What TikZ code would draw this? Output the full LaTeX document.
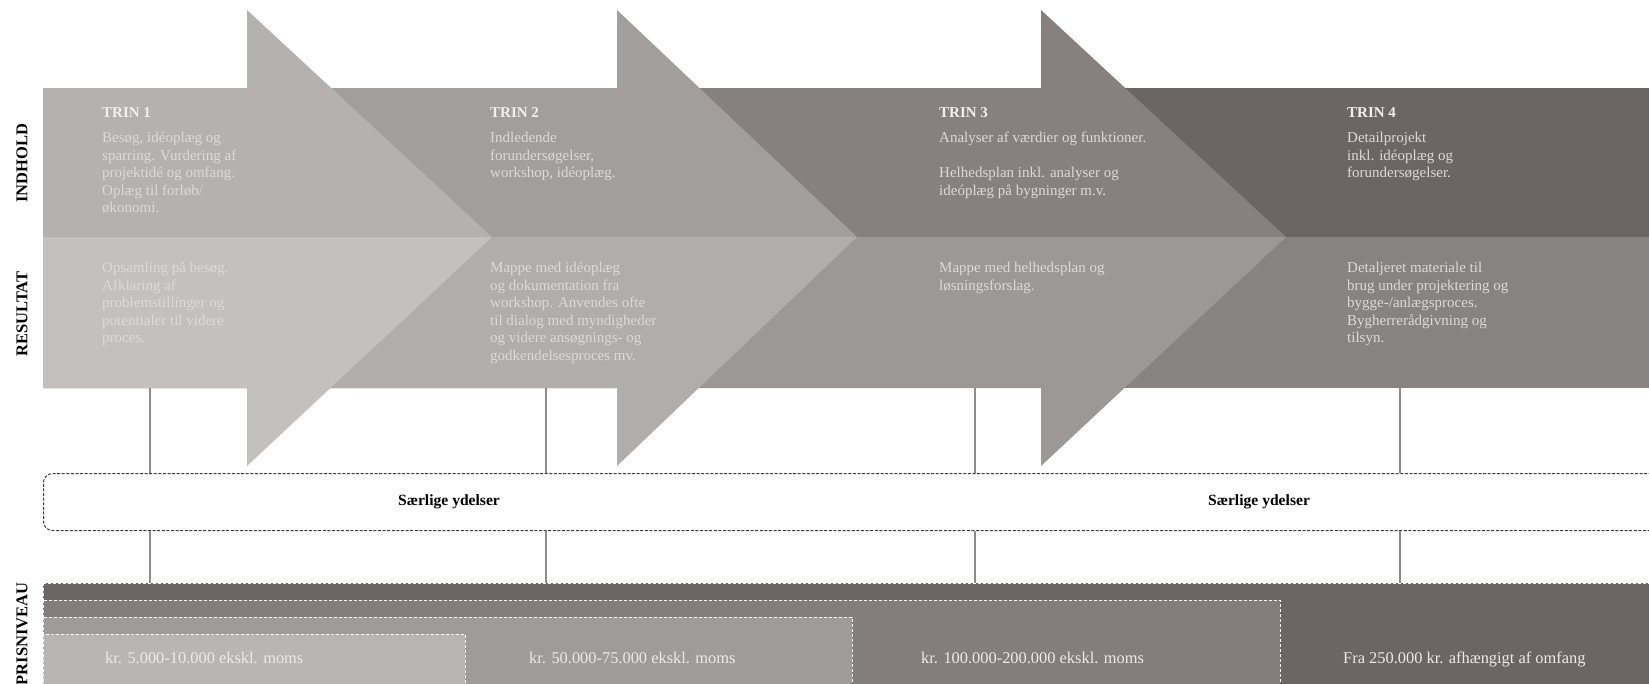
\documentclass[tikz,border=0pt]{standalone}
\usepackage{fontspec}
\setmainfont{Liberation Serif}
\definecolor{aoneu}{HTML}{B5B1AE}
\definecolor{aonel}{HTML}{C3C0BE}
\definecolor{atwou}{HTML}{A29E9D}
\definecolor{atwol}{HTML}{B0ADAB}
\definecolor{athreeu}{HTML}{86817F}
\definecolor{athreel}{HTML}{9C9896}
\definecolor{afouru}{HTML}{6B6663}
\definecolor{afourl}{HTML}{878381}
\definecolor{pone}{HTML}{B9B5B3}
\definecolor{ptwo}{HTML}{9F9B9A}
\definecolor{pthree}{HTML}{837E7B}
\definecolor{pfour}{HTML}{6B6663}
\definecolor{bodytxt}{HTML}{DCDAD7}
\definecolor{titletxt}{HTML}{F2F0EE}
\definecolor{pricetxt}{HTML}{ECEAE8}
\definecolor{linkgray}{HTML}{8C8C8C}
\definecolor{boxdash}{HTML}{3C3C3C}
\newcommand{\stagearrow}[4]{%
  \fill[#3] (43,88) -- (#1,88) -- (#1,10) -- (#2,237) -- (43,237) -- cycle;
  \fill[#4] (43,237) -- (#2,237) -- (#1,466) -- (#1,388) -- (43,388) -- cycle;}
\begin{document}
\begin{tikzpicture}[x=1pt,y=-1pt,
  body/.style={anchor=north west, inner sep=0pt, align=left, text=bodytxt,
    font=\fontsize{15}{17.5}\selectfont},
  trin/.style={anchor=base west, inner sep=0pt, text=titletxt,
    font=\bfseries\fontsize{15}{15}\selectfont},
  side/.style={rotate=90, inner sep=0pt, text=black,
    font=\bfseries\fontsize{16.5}{16.5}\selectfont},
  price/.style={anchor=base west, inner sep=0pt, text=pricetxt,
    font=\fontsize{16.4}{16.4}\selectfont},
  tier/.style={draw=white, dash pattern=on 3pt off 2pt, line width=0.9pt},
  link/.style={draw=linkgray, line width=1.4pt},
  sbox/.style={draw=boxdash, dash pattern=on 3pt off 1.6pt, line width=1pt,
    rounded corners=9pt, fill=white, inner sep=0pt},
  sylabel/.style={inner sep=0pt, text=black, font=\bfseries\fontsize{15.6}{15.6}\selectfont},
  ]
\useasboundingbox (0,0) rectangle (1649,683);
\clip (0,0) rectangle (1649,683);
\fill[white] (0,0) rectangle (1649,683);

% ---- stage band and arrows
\fill[afouru] (43,88) rectangle (1649,237);
\fill[afourl] (43,237) rectangle (1649,388);
\stagearrow{1041}{1286}{athreeu}{athreel}
\stagearrow{617}{857}{atwou}{atwol}
\stagearrow{247}{492}{aoneu}{aonel}

% ---- side labels
\node[side] (labA) at (22,163) {INDHOLD};
\node[side] (labB) at (22,314) {RESULTAT};
\node[side] (labC) at (22,634) {PRISNIVEAU};

% ---- stage texts
\node[trin] (t1) at (102,117) {TRIN 1};
\node[trin] (t2) at (490,117) {TRIN 2};
\node[trin] (t3) at (939,117) {TRIN 3};
\node[trin] (t4) at (1347,117) {TRIN 4};

\node[body] (i1) at (102,130.2) {\strut Besøg, idéoplæg og\\sparring. Vurdering af\\projektidé og omfang.\\Oplæg til forløb/\\økonomi.};
\node[body] (i2) at (490,130.2) {\strut Indledende\\forundersøgelser,\\workshop, idéoplæg.};
\node[body] (i3) at (939,130.2) {\strut Analyser af værdier og funktioner.\\[17.5pt]Helhedsplan inkl. analyser og\\ideóplæg på bygninger m.v.};
\node[body] (i4) at (1347,130.2) {\strut Detailprojekt\\inkl. idéoplæg og\\forundersøgelser.};

\node[body] (r1) at (102,260.2) {\strut Opsamling på besøg.\\Afklaring af\\problemstillinger og\\potentialer til videre\\proces.};
\node[body] (r2) at (490,260.2) {\strut Mappe med idéoplæg\\og dokumentation fra\\workshop. Anvendes ofte\\til dialog med myndigheder\\og videre ansøgnings- og\\godkendelsesproces mv.};
\node[body] (r3) at (939,260.2) {\strut Mappe med helhedsplan og\\løsningsforslag.};
\node[body] (r4) at (1347,260.2) {\strut Detaljeret materiale til\\brug under projektering og\\bygge-/anlægsproces.\\Bygherrerådgivning og\\tilsyn.};

% ---- special services box
\node[sbox, anchor=north west, minimum width=1700pt, minimum height=57pt] (box) at (43,473) {};
\node[sylabel] (sy1) at (449,502) {Særlige ydelser};
\node[sylabel] (sy2) at (1259,502) {Særlige ydelser};

% ---- price tiers
\path[fill=pfour, tier] (43,583) rectangle (1720,720);
\path[fill=pthree, tier] (43,600) rectangle (1280,720);
\path[fill=ptwo, tier] (43,617) rectangle (852,720);
\path[fill=pone, tier] (43,634) rectangle (465,720);

\node[price] (pr1) at (105,663.5) {kr. 5.000-10.000 ekskl. moms};
\node[price] (pr2) at (529,663.5) {kr. 50.000-75.000 ekskl. moms};
\node[price] (pr3) at (921,663.5) {kr. 100.000-200.000 ekskl. moms};
\node[price] (pr4) at (1343,663.5) {Fra 250.000 kr. afhængigt af omfang};

% ---- connectors
\coordinate (ca1) at (150,388); \coordinate (cb1) at (150,583);
\coordinate (ca2) at (546,388); \coordinate (cb2) at (546,583);
\coordinate (ca3) at (975,388); \coordinate (cb3) at (975,583);
\coordinate (ca4) at (1400,388); \coordinate (cb4) at (1400,583);
\foreach \i in {1,2,3,4}{
  \draw[link] (ca\i) -- (ca\i |- box.north);
  \draw[link] (ca\i |- box.south) -- (cb\i);
}
\end{tikzpicture}
\end{document}
